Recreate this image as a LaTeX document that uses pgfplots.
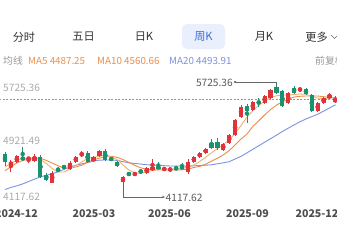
\documentclass[border=0pt]{standalone}
\usepackage{pgfplots}
\pgfplotsset{compat=1.18}
\usepackage{pgfplotstable}
\usepackage{fontspec}
\setmainfont{Noto Sans CJK SC}
\usetikzlibrary{arrows.meta}
\definecolor{upred}{HTML}{E0343C}
\definecolor{dngreen}{HTML}{1A9272}
\definecolor{maA}{HTML}{F2B26E}
\definecolor{maB}{HTML}{EE8C48}
\definecolor{maC}{HTML}{7B93E2}
\definecolor{tabblue}{HTML}{3E6FDF}
\definecolor{tabbg}{HTML}{E9EFFC}
\definecolor{txt}{HTML}{333333}
\definecolor{lbl}{HTML}{ABABAB}
\definecolor{xl}{HTML}{4D4D4D}

\pgfplotstableread{
x o h l c
1 4426 4507 4312 4475
2 4475 4589 4459 4572
4 4524 4556 4459 4540
5 4491 4605 4475 4556
8 4134 4329 4128 4296
11 4361 4491 4345 4459
12 4475 4572 4459 4556
13 4572 4654 4556 4621
15 4491 4572 4475 4556
16 4572 4670 4556 4654
20 4150 4248 4117.62 4231
22 4264 4312 4248 4296
24 4296 4394 4280 4377
25 4345 4524 4329 4394
27 4345 4394 4329 4377
28 4345 4377 4329 4361
31 4312 4524 4280 4475
32 4475 4572 4459 4556
33 4556 4637 4540 4621
34 4621 4702 4605 4686
37 4670 4783 4654 4767
38 4783 4930 4767 4913
39 4913 5173 4897 5157
40 5206 5401 5189 5368
42 5319 5466 5303 5449
44 5433 5563 5417 5547
45 5514 5660 5498 5644
48 5433 5612 5417 5595
50 5628 5693 5612 5677
53 5303 5449 5287 5433
54 5433 5530 5417 5514
55 5514 5595 5498 5563
56 5449 5547 5433 5498
}\upTab

\pgfplotstableread{
x o h l c
0 4605 4637 4410 4475
3 4556 4718 4491 4507
6 4556 4589 4215 4231
7 4264 4296 4166 4183
9 4361 4394 4312 4329
10 4410 4426 4361 4377
14 4621 4654 4459 4475
17 4654 4686 4491 4507
18 4540 4556 4491 4507
19 4475 4491 4394 4410
21 4296 4312 4248 4264
23 4329 4345 4296 4312
26 4394 4475 4361 4377
29 4377 4410 4345 4361
30 4394 4459 4361 4377
35 4783 4848 4686 4702
36 4800 4865 4670 4702
41 5384 5417 5108 5303
43 5449 5514 5368 5433
46 5693 5725.36 5579 5595
47 5628 5644 5368 5384
49 5677 5709 5579 5595
51 5660 5677 5563 5579
52 5563 5579 5287 5303
}\dnTab

\pgfplotstableread{
x ma5 ma10 ma20
0 4394 4334 4028
1 4451 4399 4062
2 4507 4459 4088
3 4532 4499 4119
4 4540 4519 4158
5 4540 4532 4196
6 4515 4537 4233
7 4451 4501 4259
8 4369 4457 4285
9 4312 4413 4316
10 4312 4377 4355
11 4361 4377 4394
12 4418 4394 4421
13 4475 4423 4444
14 4532 4472 4467
15 4551 4509 4486
16 4569 4538 4506
17 4584 4559 4507
18 4559 4569 4507
19 4515 4551 4501
20 4426 4515 4481
21 4345 4468 4462
22 4299 4420 4451
23 4291 4381 4441
24 4316 4356 4431
25 4340 4345 4425
26 4353 4345 4420
27 4361 4345 4415
28 4361 4345 4410
29 4361 4345 4410
30 4369 4348 4410
31 4389 4358 4410
32 4426 4386 4413
33 4483 4403 4418
34 4551 4439 4423
35 4624 4488 4429
36 4694 4535 4446
37 4756 4589 4462
38 4835 4660 4480
39 4938 4753 4524
40 5069 4848 4566
41 5202 4928 4623
42 5311 5053 4681
43 5392 5142 4738
44 5466 5238 4796
45 5519 5326 4853
46 5550 5397 4910
47 5563 5453 4969
48 5563 5495 5024
49 5571 5530 5077
50 5579 5542 5129
51 5574 5547 5173
52 5543 5547 5212
53 5514 5547 5250
54 5501 5535 5301
55 5514 5524 5352
56 5514 5514 5404
}\maTab

\begin{document}
\begin{tikzpicture}
\fill[white] (0,0) rectangle (337pt,250pt);
\begin{axis}[at={(0,0)}, anchor=south west, scale only axis,
  width=337pt, height=250pt,
  xmin=-0.847, xmax=56.27, ymin=3045.76, ymax=7105.76,
  hide axis, clip=true]
% last price dashed line
\addplot[upred!70, line width=0.6pt, dash pattern=on 2pt off 1.5pt] coordinates {(-1,5498) (57,5498)};
% moving averages
\addplot[maC, line width=0.9pt, line join=round] table[x=x, y=ma20] {\maTab};
\addplot[maB, line width=0.9pt, line join=round] table[x=x, y=ma10] {\maTab};
\addplot[maA, line width=0.9pt, line join=round] table[x=x, y=ma5] {\maTab};
% wicks
\addplot[upred, draw=upred, only marks, mark=none, error bars/.cd, y dir=both, y explicit, error mark=none,
  error bar style={draw=upred, line width=0.8pt}]
  table[x=x, y expr={(\thisrow{h}+\thisrow{l})/2}, y error expr={(\thisrow{h}-\thisrow{l})/2}] {\upTab};
\addplot[dngreen, draw=dngreen, only marks, mark=none, error bars/.cd, y dir=both, y explicit, error mark=none,
  error bar style={draw=dngreen, line width=0.8pt}]
  table[x=x, y expr={(\thisrow{h}+\thisrow{l})/2}, y error expr={(\thisrow{h}-\thisrow{l})/2}] {\dnTab};
% bodies
\addplot[upred, draw=upred, only marks, mark=none, error bars/.cd, y dir=both, y explicit, error mark=none,
  error bar style={draw=upred, line width=4.2pt}]
  table[x=x, y expr={(\thisrow{o}+\thisrow{c})/2}, y error expr={max(abs(\thisrow{c}-\thisrow{o})/2,9)}] {\upTab};
\addplot[dngreen, draw=dngreen, only marks, mark=none, error bars/.cd, y dir=both, y explicit, error mark=none,
  error bar style={draw=dngreen, line width=4.2pt}]
  table[x=x, y expr={(\thisrow{o}+\thisrow{c})/2}, y error expr={max(abs(\thisrow{c}-\thisrow{o})/2,9)}] {\dnTab};
\end{axis}
\begin{scope}[x=1pt, y=-1pt, yshift=250pt]
% top tabs
\fill[tabbg, rounded corners=5pt] (182,24) rectangle (225,49);
\begin{scope}[every node/.style={font=\fontsize{11.2}{13}\selectfont, text=txt, inner sep=0pt}]
\node at (24,37) {分时};
\node at (83.5,37) {五日};
\node at (144,37) {日K};
\node[text=tabblue] at (203.5,37) {周K};
\node at (264,37) {月K};
\node at (316.5,37) {更多};
\end{scope}
\draw[txt!70, line width=0.6pt] (331,35) -- (334.5,38.5) -- (338,35);
% MA legend
\begin{scope}[every node/.style={font=\fontsize{9.8}{11}\selectfont, inner sep=0pt, anchor=west}]
\node[text=lbl!90!black] at (3,61) {均线};
\node[text=maB!85!maA] at (28,61) {MA5 4487.25};
\node[text=maB] at (97,61) {MA10 4560.66};
\node[text=maC] at (169,61) {MA20 4493.91};
\node[text=lbl!90!black] at (315,61) {前复权};
\end{scope}
% price labels
\begin{scope}[every node/.style={font=\fontsize{10.2}{12}\selectfont, text=lbl, inner sep=0pt, anchor=west}]
\node at (3,88) {5725.36};
\node at (3,140.5) {4921.49};
\node at (3,197) {4117.62};
\end{scope}
% x labels
\begin{scope}[every node/.style={font=\bfseries\fontsize{10.6}{12}\selectfont, text=xl, inner sep=0pt}]
\node at (16.5,214) {2024-12};
\node at (94,214) {2025-03};
\node at (169.5,214) {2025-06};
\node at (247.5,214) {2025-09};
\node at (317,214) {2025-12};
\end{scope}
% max / min annotations
\draw[black!60, line width=0.5pt, {Circle[length=2.2pt]}-] (234,82) -- (276.4,82) -- (276.4,84.5);
\node[font=\fontsize{10.2}{12}\selectfont, text=black!65, inner sep=0pt, anchor=east] at (233,82.5) {5725.36};
\draw[black!60, line width=0.5pt, -{Stealth[length=3pt,width=2.5pt]}] (123,184) -- (123,197) -- (165,197);
\node[font=\fontsize{10.2}{12}\selectfont, text=black!65, inner sep=0pt, anchor=west] at (165.5,197.5) {4117.62};
\end{scope}
\pgfresetboundingbox
\path[use as bounding box] (0,0) rectangle (337pt,250pt);
\end{tikzpicture}
\end{document}
